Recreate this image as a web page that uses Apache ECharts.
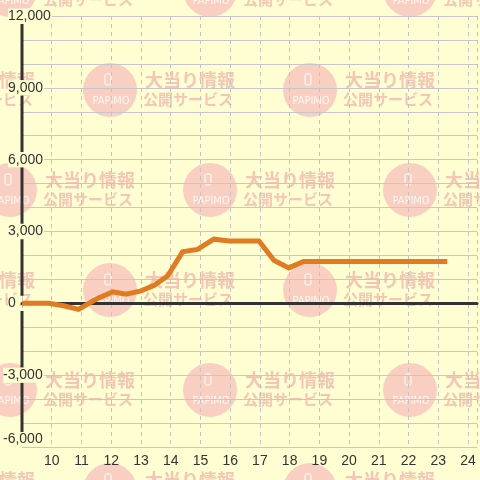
<!DOCTYPE html>
<html>
<head>
<meta charset="utf-8">
<script src="https://cdn.jsdelivr.net/npm/echarts@6/dist/echarts.min.js"></script>
<style>html,body{margin:0;padding:0;background:#fefed2;}#c{width:480px;height:480px;}</style>
</head>
<body>
<div id="c"></div>
<script>
// Data (hour of day, balance)
const hours  = [9.0, 9.9, 10.4, 10.9, 11.5, 12.05, 12.5, 13.0, 13.45, 13.9, 14.4, 14.9, 15.45, 15.97, 16.97, 17.47, 17.97, 18.47, 23.3];
const values = [0,   0,  -100, -250,  180,  480,   380,  520,  750,   1150, 2150, 2250, 2680,  2600,  2600,  1800,  1480,  1750,  1750];
const yTicks = [-6000, -3000, 0, 3000, 6000, 9000, 12000];
const xTicks = [10, 11, 12, 13, 14, 15, 16, 17, 18, 19, 20, 21, 22, 23, 24];
const xRange = [9, 24.3];
const wmTitle = ['大当り情報', '公開サービス'];
const wmLogo = 'PAPIMO';

const BG = '#fefed2';
const FONT = '"Liberation Sans", Arial, sans-serif';

function fmt(v){ return (v < 0 ? '-' : '') + Math.abs(v).toLocaleString('en-US'); }

// watermark tiles
const wm = [];
const rows = [-10, 90, 190, 290, 390, 490];
rows.forEach((cy, i) => {
  const xs = (i % 2 === 0) ? [10, 210, 410] : [-90, 110, 310];
  xs.forEach(cx => {
    wm.push({
      type: 'group', x: cx, y: cy, z: -10, silent: true,
      children: [
        { type: 'circle', shape: { cx: 0, cy: 0, r: 27 }, style: { fill: '#f9cfc2' }, z: -10 },
        { type: 'rect', shape: { x: -5, y: -16, width: 6, height: 11, r: 1.5 }, style: { fill: null, stroke: '#ffffff', lineWidth: 1 }, z: -10 },
        { type: 'text', x: 1, y: 11, z: -10, style: { text: wmLogo, fill: '#fff6ee', font: '11px "DejaVu Sans Condensed", "Liberation Sans Narrow", sans-serif', align: 'center', verticalAlign: 'middle' } },
        { type: 'text', x: 35, y: -10, z: -10, style: { text: wmTitle[0], fill: '#f3c6b6', font: 'bold 18px "Noto Sans CJK JP", sans-serif', align: 'left', verticalAlign: 'middle' } },
        { type: 'text', x: 33, y: 9, z: -10, style: { text: wmTitle[1], fill: '#f3c6b6', font: 'bold 15px "Noto Sans CJK JP", sans-serif', align: 'left', verticalAlign: 'middle' } }
      ]
    });
  });
});

// y-axis baseline pieces, broken where the tick labels sit
const axisSegments = [];
for (let i = 0; i < yTicks.length - 1; i++) {
  const lo = yTicks[i] + (i === 0 ? 500 : 320);
  const hi = yTicks[i + 1] - (i + 1 === yTicks.length - 1 ? 330 : 320);
  axisSegments.push({
    type: 'line',
    data: [[xRange[0], lo], [xRange[0], hi]],
    showSymbol: false, symbol: 'none', silent: true, z: 1,
    lineStyle: { color: '#333', width: 3, cap: 'butt' }
  });
}

const yRange = { type: 'value', min: yTicks[0], max: yTicks[yTicks.length - 1], interval: 3000, position: 'left' };
function labelAxis(neg) {
  return Object.assign({}, yRange, {
    z: 6,
    axisLine: { show: false, onZero: false },
    axisTick: { show: false },
    splitLine: { show: false },
    axisLabel: {
      show: true, align: 'left', margin: neg ? 19 : 14, color: '#333', fontSize: 14, fontFamily: FONT,
      backgroundColor: BG, lineHeight: 15, padding: [0, 1, 0, 0],
      verticalAlignMinLabel: 'bottom',
      formatter: v => (yTicks.indexOf(v) >= 0 && (neg ? v < 0 : v >= 0)) ? fmt(v) : ''
    }
  });
}

const chart = echarts.init(document.getElementById('c'), null, { renderer: 'canvas' });
chart.setOption({
  backgroundColor: BG,
  animation: false,
  graphic: { elements: wm },
  grid: { left: 21, right: 0, top: 16, bottom: 33, containLabel: false },
  xAxis: [
    {
      type: 'value', min: xRange[0], max: xRange[1], interval: 1,
      axisLine: { show: true, onZero: true, lineStyle: { color: '#333', width: 3 } },
      axisTick: { show: false },
      axisLabel: { show: false },
      splitLine: { show: true, lineStyle: { color: '#c4c4c8', width: 1, type: [4, 4] } }
    },
    {
      type: 'value', min: xRange[0], max: xRange[1], interval: 1, position: 'bottom',
      axisLine: { show: false, onZero: false },
      axisTick: { show: false },
      splitLine: { show: false },
      axisLabel: {
        show: true, margin: 7, color: '#333', fontSize: 14, fontFamily: FONT,
        formatter: v => (xTicks.indexOf(v) >= 0 ? String(v) : '')
      }
    }
  ],
  yAxis: [
    Object.assign({}, yRange, {
      z: 0,
      axisLine: { show: false, onZero: false },
      axisTick: { show: false },
      axisLabel: { show: false },
      minorTick: { show: false, splitNumber: 3 },
      splitLine: { show: true, lineStyle: { color: '#c6c6cc', width: 1 } },
      minorSplitLine: { show: true, lineStyle: { color: '#c6c6cc', width: 1 } }
    }),
    labelAxis(false),
    labelAxis(true)
  ],
  series: axisSegments.concat([
    {
      type: 'line',
      data: hours.map((h, i) => [h, values[i]]),
      showSymbol: false,
      symbol: 'none',
      z: 5,
      lineStyle: { color: '#e07b22', width: 5, cap: 'butt', join: 'miter' }
    }
  ])
});
</script>
</body>
</html>
